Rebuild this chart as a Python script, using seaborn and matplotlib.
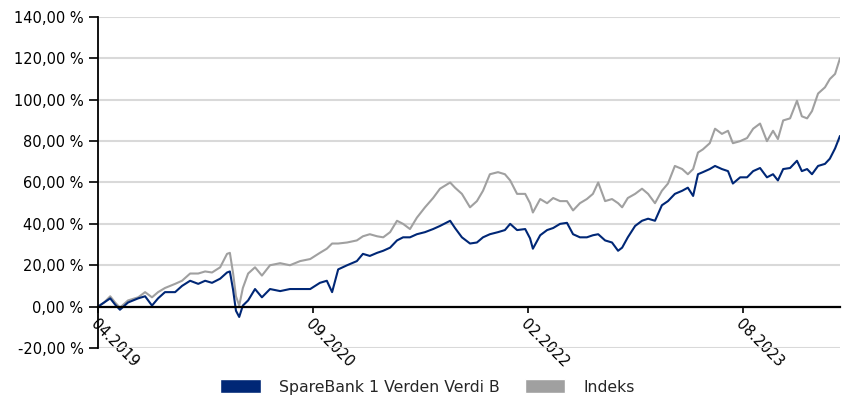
import matplotlib
matplotlib.use('Agg')
import numpy as np
import pandas as pd
import seaborn as sns
import matplotlib.pyplot as plt
import matplotlib.ticker as mticker
from matplotlib.patches import Patch

START = '2019-04-01'

# days after START
days = [0, 15, 30, 42, 54, 74, 99, 116, 133, 148, 165, 190, 207, 227, 247, 264,
        281, 301, 318, 325, 333, 340, 348, 357, 370, 387, 404, 424, 449, 473,
        498, 523, 547, 564, 577, 592, 614, 638, 653, 670, 688, 703, 720, 737,
        752, 769, 786, 806, 826, 843, 868, 880, 897, 917, 934, 949, 966, 986,
        1003, 1016, 1033, 1053, 1065, 1072, 1090, 1107, 1122, 1139, 1156, 1171,
        1188, 1205, 1220, 1233, 1250, 1267, 1282, 1292, 1306, 1324, 1341, 1356,
        1373, 1390, 1405, 1422, 1440, 1454, 1467, 1479, 1491, 1508, 1521, 1538,
        1553, 1565, 1583, 1600, 1615, 1632, 1649, 1664, 1676, 1689, 1706, 1723,
        1735, 1748, 1760, 1775, 1792, 1804, 1817, 1829]

fund = [0, 2, 4, 1, -1.5, 2, 4, 5, 0.5, 4, 7, 7, 10, 12.5, 11, 12.5,
        11.5, 13.5, 16.5, 17, 8, -2, -5, 0.5, 3, 8.5, 4.5, 8.5, 7.5, 8.5,
        8.5, 8.5, 11.5, 12.5, 7, 18, 20, 22, 25.5, 24.5, 26, 27, 28.5, 32,
        33.5, 33.5, 35, 36, 37.5, 39, 41.5, 38, 33.5, 30.5, 31, 33.5, 35, 36,
        37, 40, 37, 37.5, 33, 28, 34.5, 37, 38, 40, 40.5, 35,
        33.5, 33.5, 34.5, 35, 32, 31, 27, 28.5, 33.5, 39, 41.5, 42.5,
        41.5, 49, 51, 54.5, 56, 57.5, 53.5, 64, 65, 66.5, 68, 66.5,
        65.5, 59.5, 62.5, 62.5, 65.5, 67, 62.5, 64, 61, 66.5, 67, 70.5,
        65.5, 66.5, 64, 68, 69, 71.5, 76.5, 82.5]

index = [0, 2, 5, 2, -0.5, 3, 4.5, 7, 4.5, 7, 9, 11, 12.5, 16, 16, 17,
         16.5, 19, 25.5, 26, 16, 5, 0.5, 9, 16, 19, 15, 20, 21, 20,
         22, 23, 26, 28, 30.5, 30.5, 31, 32, 34, 35, 34, 33.5, 36, 41.5,
         40, 37.5, 43, 48, 52.5, 57, 60, 57.5, 54.5, 48, 51, 56, 64, 65,
         64, 61, 54.5, 54.5, 50, 45.5, 52, 50, 52.5, 51, 51, 46.5,
         50, 52, 54.5, 60, 51, 52, 50, 48, 52.5, 54.5, 57, 54.5,
         50, 56, 59.5, 68, 66.5, 64, 66.5, 74.5, 76, 79, 86, 83.5,
         85, 79, 80, 81.5, 86, 88.5, 80, 85, 81, 90, 91, 99.5,
         92, 91, 94.5, 103, 106, 110, 112.5, 120]

tick_days = [0, 530, 1060, 1590]
tick_labels = ['04.2019', '09.2020', '02.2022', '08.2023']
y_ticks = [-20, 0, 20, 40, 60, 80, 100, 120, 140]

fund_name = 'SpareBank 1 Verden Verdi B'
index_name = 'Indeks'
colors = {fund_name: '#002776', index_name: '#a0a0a0'}

dates = pd.to_datetime(START) + pd.to_timedelta(days, unit='D')
df = pd.concat([
    pd.DataFrame({'date': dates, 'value': index, 'series': index_name}),
    pd.DataFrame({'date': dates, 'value': fund, 'series': fund_name}),
])

sns.set_style('white')
plt.rcParams['font.family'] = ['DejaVu Sans']
plt.rcParams['font.size'] = 10.5

fig = plt.figure(figsize=(8.43, 4.03), dpi=100)
ax = fig.add_axes([0.1163, 0.1365, 0.8801, 0.8213])

sns.lineplot(data=df, x='date', y='value', hue='series',
             hue_order=[index_name, fund_name], palette=colors,
             linewidth=1.5, ax=ax, legend=False)

ax.set_ylim(-20, 140)
ax.set_xlim(dates[0], dates[-1])
ax.set_yticks(y_ticks)
ax.yaxis.set_major_formatter(mticker.FuncFormatter(
    lambda v, p: f'{v:.2f}'.replace('.', ',') + ' %'))
ax.grid(axis='y', color='#d9d9d9', linewidth=1.5)
ax.set_axisbelow(True)

for s in ['top', 'right']:
    ax.spines[s].set_visible(False)
ax.spines['bottom'].set_position(('data', 0))
ax.spines['bottom'].set_linewidth(1.6)
ax.spines['left'].set_linewidth(1.3)
ax.spines['bottom'].set_color('black')
ax.spines['left'].set_color('black')
ax.spines['bottom'].set_zorder(3)
ax.tick_params(axis='y', direction='out', length=6.5, width=1.2, pad=4,
               left=True, labelsize=10.5, colors='black')
ax.tick_params(axis='x', direction='out', length=4, width=1.2, pad=3,
               bottom=True, labelsize=10.5, colors='black')
ax.set_xlabel('')
ax.set_ylabel('')

tick_dates = pd.to_datetime(START) + pd.to_timedelta(tick_days, unit='D')
ax.set_xticks(tick_dates)
ax.set_xticklabels(tick_labels)
plt.setp(ax.get_xticklabels(), rotation=-45, ha='left', va='top',
         rotation_mode='anchor')

handles = [Patch(facecolor=colors[fund_name], label=fund_name),
           Patch(facecolor=colors[index_name], label=index_name)]
fig.legend(handles=handles, loc='lower center', ncol=2, frameon=False,
           bbox_to_anchor=(0.507, -0.014), handlelength=2.6,
           handleheight=1.0, handletextpad=1.15, columnspacing=1.6,
           fontsize=11.3)

fig.savefig('out.png', dpi=100)
